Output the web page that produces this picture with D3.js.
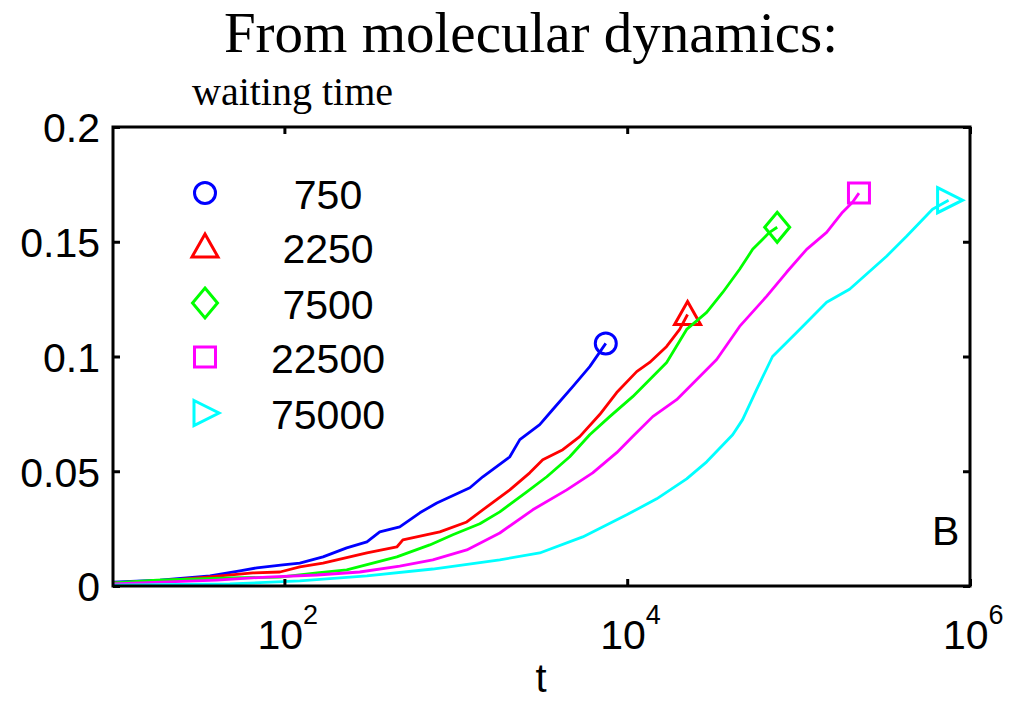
<!DOCTYPE html>
<html>
<head>
<meta charset="utf-8">
<script src="https://cdn.jsdelivr.net/npm/d3@7"></script>
<style>
  html, body { margin: 0; padding: 0; background: #fff; }
  svg { display: block; }
</style>
</head>
<body>
<svg id="chart" width="1016" height="701"></svg>
<script>
// Waiting times (legend entries)
const waitingTimes = ["750", "2250", "7500", "22500", "75000"];

// t values and correlation values for each waiting time
const t750 = [10, 18.8, 36.8, 55, 69, 98, 123, 168, 231, 303, 360, 471, 617, 775, 1208, 1437, 2066, 2363, 3088, 3680, 4812, 6045, 7500];
const v750 = [0.0017, 0.0026, 0.0044, 0.0066, 0.0079, 0.0092, 0.0100, 0.0127, 0.0166, 0.0192, 0.0236, 0.0258, 0.0319, 0.0362, 0.0428, 0.0476, 0.0563, 0.0638, 0.0703, 0.0769, 0.0869, 0.0956, 0.1057];

const t2250 = [10, 18.8, 35.3, 65.5, 94.2, 123, 168, 303, 453, 491, 807, 1159, 1517, 2066, 2700, 3216, 4210, 5283, 6912, 8684, 11360, 13520, 16990, 20230, 22500];
const v2250 = [0.0013, 0.0022, 0.0039, 0.0057, 0.0061, 0.0083, 0.0100, 0.0144, 0.0170, 0.0201, 0.0236, 0.0279, 0.0345, 0.0419, 0.0493, 0.0550, 0.0594, 0.0651, 0.0747, 0.0843, 0.0934, 0.0974, 0.1044, 0.1118, 0.1183];

const t7500 = [10, 18.1, 48.1, 94.2, 155, 231, 328, 453, 705, 961, 1381, 1806, 2596, 3395, 4621, 6045, 7906, 10765, 16990, 22220, 29090, 36060, 45290, 53950, 67690, 75000];
const v7500 = [0.0013, 0.0026, 0.0035, 0.0039, 0.0057, 0.0070, 0.0100, 0.0127, 0.0179, 0.0223, 0.0271, 0.0323, 0.0410, 0.0476, 0.0563, 0.0659, 0.0738, 0.0825, 0.0974, 0.1118, 0.1192, 0.1279, 0.1380, 0.1467, 0.1541, 0.1563];

const t22500 = [10, 40.4, 79.1, 155, 275, 471, 734, 1159, 1806, 2811, 4440, 6290, 8684, 10765, 14090, 19430, 33270, 45290, 65030, 85100, 111400, 145700, 180500, 206400, 225000];
const v22500 = [0.0009, 0.0026, 0.0039, 0.0048, 0.0061, 0.0087, 0.0114, 0.0157, 0.0231, 0.0332, 0.0419, 0.0493, 0.0581, 0.0651, 0.0738, 0.0812, 0.0987, 0.1131, 0.1262, 0.1367, 0.1467, 0.1541, 0.1629, 0.1672, 0.1712];

const t75000 = [10, 48.1, 123, 303, 734, 1806, 3088, 5503, 9937, 14860, 22220, 29090, 41240, 47130, 56880, 70470, 101400, 145700, 198300, 326100, 426600, 604400, 750000];
const v75000 = [0.0004, 0.0009, 0.0022, 0.0044, 0.0074, 0.0114, 0.0144, 0.0214, 0.0310, 0.0380, 0.0467, 0.0541, 0.0659, 0.0725, 0.0856, 0.1000, 0.1118, 0.1236, 0.1293, 0.1437, 0.1524, 0.1642, 0.1681];

// Axis ticks
const xTickValues = [1e2, 1e4, 1e6];
const xTickExponents = ["2", "4", "6"];
const yTickValues = [0, 0.05, 0.1, 0.15, 0.2];

const seriesT = [t750, t2250, t7500, t22500, t75000];
const seriesV = [v750, v2250, v7500, v22500, v75000];
const colors = ["#0000ff", "#ff0000", "#00ff00", "#ff00ff", "#00ffff"];
const markerKinds = ["circle", "triangleUp", "diamond", "square", "triangleRight"];

const svg = d3.select("#chart");
const plotLeft = 113, plotRight = 970, plotTop = 127, plotBottom = 586;

const x = d3.scaleLog().domain([10, 1e6]).range([plotLeft, plotRight]);
const y = d3.scaleLinear().domain([0, 0.2]).range([plotBottom, plotTop]);

const sans = "'Liberation Sans', Arial, Helvetica, sans-serif";
const serif = "'Liberation Serif', 'Times New Roman', serif";

// Titles
svg.append("text")
  .attr("x", 531).attr("y", 52)
  .attr("text-anchor", "middle")
  .style("font-family", serif).style("font-size", "57px")
  .text("From molecular dynamics:");

svg.append("text")
  .attr("x", 192).attr("y", 105)
  .style("font-family", serif).style("font-size", "40px")
  .text("waiting time");

// Marker shapes
function markerPath(kind) {
  switch (kind) {
    case "circle": {
      const p = d3.path();
      p.arc(0, 0, 10.5, 0, 2 * Math.PI);
      p.closePath();
      return p.toString();
    }
    case "triangleUp": return "M0,-13L13,10L-13,10Z";
    case "diamond": return "M0,-15L12.5,0L0,15L-12.5,0Z";
    case "square": return "M-10.5,-10L10.5,-10L10.5,10L-10.5,10Z";
    case "triangleRight": return "M-11,-12.5L14,0L-11,12.5Z";
  }
}

// Curves
const plot = svg.append("g");
const line = d3.line().x(d => x(d[0])).y(d => y(d[1]));

seriesT.forEach((ts, i) => {
  const pts = ts.map((t, j) => [t, seriesV[i][j]]);
  plot.append("path")
    .datum(pts)
    .attr("d", line)
    .attr("fill", "none")
    .attr("stroke", colors[i])
    .attr("stroke-width", 2.8)
    .attr("stroke-linejoin", "round");
  const last = pts[pts.length - 1];
  plot.append("path")
    .attr("d", markerPath(markerKinds[i]))
    .attr("transform", `translate(${x(last[0])},${y(last[1])})`)
    .attr("fill", "none")
    .attr("stroke", colors[i])
    .attr("stroke-width", 3);
});

// Axes with inward ticks on all four sides
const tickLen = 7;
const xAxisB = svg.append("g").attr("transform", `translate(0,${plotBottom})`)
  .call(d3.axisBottom(x).tickValues(xTickValues).tickSize(-tickLen).tickFormat(""));
const xAxisT = svg.append("g").attr("transform", `translate(0,${plotTop})`)
  .call(d3.axisTop(x).tickValues(xTickValues).tickSize(-tickLen).tickFormat(""));
const yAxisL = svg.append("g").attr("transform", `translate(${plotLeft},0)`)
  .call(d3.axisLeft(y).tickValues(yTickValues).tickSize(-tickLen).tickPadding(13)
    .tickFormat(d => String(d)));
const yAxisR = svg.append("g").attr("transform", `translate(${plotRight},0)`)
  .call(d3.axisRight(y).tickValues(yTickValues).tickSize(-tickLen).tickFormat(""));

[xAxisB, xAxisT, yAxisL, yAxisR].forEach(g => {
  g.select(".domain").remove();
  g.selectAll(".tick line").attr("stroke", "#000").attr("stroke-width", 3);
});
yAxisL.selectAll(".tick text")
  .style("font-family", sans).style("font-size", "41px").attr("fill", "#000")
  .attr("dy", "0.36em");

// Log tick labels with superscript exponents
xTickValues.forEach((v, i) => {
  const tx = svg.append("text")
    .attr("x", x(v) - 27).attr("y", 649)
    .style("font-family", sans).style("font-size", "41px").attr("fill", "#000");
  tx.append("tspan").text("10");
  tx.append("tspan").attr("dy", -25).style("font-size", "27px").text(xTickExponents[i]);
});

// Frame
svg.append("rect")
  .attr("x", plotLeft).attr("y", plotTop)
  .attr("width", plotRight - plotLeft).attr("height", plotBottom - plotTop)
  .attr("fill", "none").attr("stroke", "#000").attr("stroke-width", 3);

// Axis label
svg.append("text")
  .attr("x", 541).attr("y", 692)
  .attr("text-anchor", "middle")
  .style("font-family", sans).style("font-size", "40px")
  .text("t");

// Panel letter
svg.append("text")
  .attr("x", 932).attr("y", 545)
  .style("font-family", sans).style("font-size", "41px")
  .text("B");

// Legend
const legendRows = [193, 247, 303, 357, 413];
waitingTimes.forEach((w, i) => {
  svg.append("path")
    .attr("d", markerPath(markerKinds[i]))
    .attr("transform", `translate(205,${legendRows[i]})`)
    .attr("fill", "none")
    .attr("stroke", colors[i])
    .attr("stroke-width", 3);
  svg.append("text")
    .attr("x", 328).attr("y", legendRows[i] + 16)
    .attr("text-anchor", "middle")
    .style("font-family", sans).style("font-size", "41px")
    .text(w);
});
</script>
</body>
</html>
